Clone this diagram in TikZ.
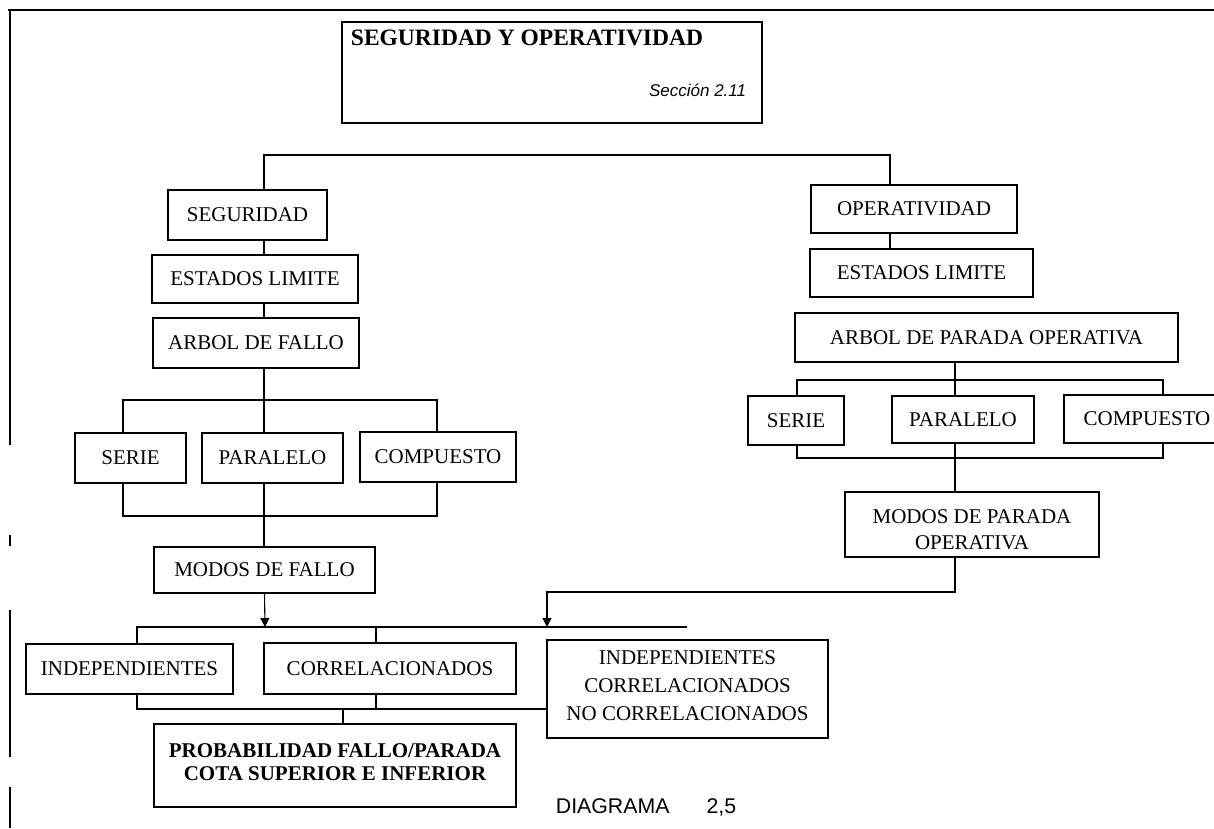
\documentclass[tikz,border=0pt]{standalone}
\usepackage{fontspec}
\setmainfont{Liberation Serif}
\setsansfont{Liberation Sans}
\usetikzlibrary{arrows.meta}

\begin{document}
\begin{tikzpicture}[
    x=1pt, y=-1pt,
    line width=1.1pt,
    every node/.style={font=\fontsize{21}{28}\selectfont},
    caja/.style={draw, inner sep=0pt, align=center},
    flecha/.style={-{Triangle[length=9pt, width=9pt]}}
]

\useasboundingbox (0,0) rectangle (1214,828);

% Marco de la hoja (borde izquierdo con cortes del escaneo)
\draw (8,10) -- (1214,10);
\draw (10,10) -- (10,445);
\draw (10,535) -- (10,546);
\draw (10,610) -- (10,757);
\draw (10,787) -- (10,828);

% Cabecera
\node[caja, minimum width=420pt, minimum height=101pt] (cabecera) at (552,72.5) {};
\node[font=\fontsize{23.5}{27}\selectfont\bfseries] (titulo) at (527,38) {SEGURIDAD Y OPERATIVIDAD};
\node[anchor=east, font=\fontsize{17}{20}\selectfont\sffamily\itshape] (seccion) at (750,90) {Sección 2.11};

% Rama de seguridad
\node[caja, minimum width=159pt, minimum height=50pt] (seg) at (247.5,215) {SEGURIDAD};
\node[caja, minimum width=206pt, minimum height=48pt] (estL) at (255,279) {ESTADOS LIMITE};
\node[caja, minimum width=206pt, minimum height=50pt] (arbL) at (256,343) {ARBOL DE FALLO};
\node[caja, minimum width=111pt, minimum height=50pt] (serL) at (130.5,458) {SERIE};
\node[caja, minimum width=141pt, minimum height=50pt] (parL) at (272.5,458) {PARALELO};
\node[caja, minimum width=156pt, minimum height=50pt] (comL) at (438,457) {COMPUESTO};
\node[caja, minimum width=221pt, minimum height=46pt] (modF) at (264.5,570) {MODOS DE FALLO};

% Rama de operatividad
\node[caja, minimum width=206pt, minimum height=48pt] (ope) at (914,209) {OPERATIVIDAD};
\node[caja, minimum width=223pt, minimum height=48pt] (estR) at (921.5,273) {ESTADOS LIMITE};
\node[caja, minimum width=383pt, minimum height=49pt] (arbR) at (986.5,337.5) {ARBOL DE PARADA OPERATIVA};
\node[caja, minimum width=96pt, minimum height=49pt] (serR) at (796,420.5) {SERIE};
\node[caja, minimum width=142pt, minimum height=47pt] (parR) at (963,419.5) {PARALELO};
\node[caja, minimum width=166pt, minimum height=48pt] (comR) at (1147,419) {COMPUESTO};
\node[caja, minimum width=254pt, minimum height=65pt] (modP) at (972,524.5) {};
\node[align=center, font=\fontsize{21}{26}\selectfont] (modPtxt) at (972,530) {MODOS DE PARADA\\OPERATIVA};

% Fila de correlacion
\node[caja, minimum width=207pt, minimum height=50pt] (ind) at (129.5,669) {INDEPENDIENTES};
\node[caja, minimum width=252pt, minimum height=51pt] (cor) at (390,668.5) {CORRELACIONADOS};
\node[caja, minimum width=281pt, minimum height=98pt] (tri) at (687.5,689) {};
\node[align=center, font=\fontsize{21}{28}\selectfont] (tritxt) at (687.5,686)
    {INDEPENDIENTES\\CORRELACIONADOS\\NO CORRELACIONADOS};

% Resultado
\node[caja, minimum width=362pt, minimum height=83pt] (prob) at (335,765.5) {};
\node[align=center, font=\fontsize{21}{23}\selectfont\bfseries] (probtxt) at (335,762.5)
    {PROBABILIDAD FALLO/PARADA\\COTA SUPERIOR E INFERIOR};
\node[anchor=base west, font=\fontsize{21.3}{24}\selectfont\sffamily] (pie) at (552,813) {DIAGRAMA\hspace{37pt}2,5};

% Ejes de conexion
\coordinate (ejeL) at (264,155);
\coordinate (ejeR) at (890,155);
\coordinate (ejeP) at (955,380);
\coordinate (bLa) at (123,400);
\coordinate (bLb) at (437,400);
\coordinate (cLa) at (123,516);
\coordinate (cLb) at (437,516);
\coordinate (bRa) at (797,380);
\coordinate (bRb) at (1163,380);
\coordinate (cRa) at (797,458);
\coordinate (cRb) at (1163,458);
\coordinate (codo) at (547,592);
\coordinate (juntaA) at (265,627);
\coordinate (juntaB) at (547,627);
\coordinate (dA) at (137,627);
\coordinate (dB) at (687,627);
\coordinate (dC) at (376,627);
\coordinate (eA) at (137,709);
\coordinate (eC) at (376,709);
\coordinate (eP) at (343,709);

% Conectores superiores
\draw (seg.north -| ejeL) -- (ejeL) -- (ejeR) -- (ope.north -| ejeR);

% Conectores de seguridad
\draw (seg.south -| ejeL) -- (estL.north -| ejeL);
\draw (estL.south -| ejeL) -- (arbL.north -| ejeL);
\draw (arbL.south -| ejeL) -- (parL.north -| ejeL);
\draw (serL.north -| bLa) -- (bLa) -- (bLb) -- (comL.north -| bLb);
\draw (serL.south -| cLa) -- (cLa) -- (cLb) -- (comL.south -| cLb);
\draw (parL.south -| ejeL) -- (modF.north -| ejeL);

% Conectores de operatividad
\draw (ope.south -| ejeR) -- (estR.north -| ejeR);
\draw (arbR.south -| ejeP) -- (parR.north -| ejeP);
\draw (serR.north -| bRa) -- (bRa) -- (bRb) -- (comR.north -| bRb);
\draw (serR.south -| cRa) -- (cRa) -- (cRb) -- (comR.south -| cRb);
\draw (parR.south -| ejeP) -- (modP.north -| ejeP);

% Flechas hacia la fila de correlacion
\draw[flecha] (modF.south) -- (juntaA);
\draw[flecha] (modP.south -| ejeP) |- (codo) -- (juntaB);
\draw (ind.north -| dA) -- (dA) -- (dB);
\draw (dC) -- (cor.north -| dC);

% Conectores inferiores
\draw (ind.south -| eA) -- (eA) -- (tri.west |- eA);
\draw (cor.south -| eC) -- (eC);
\draw (eP) -- (prob.north -| eP);

\end{tikzpicture}
\end{document}
